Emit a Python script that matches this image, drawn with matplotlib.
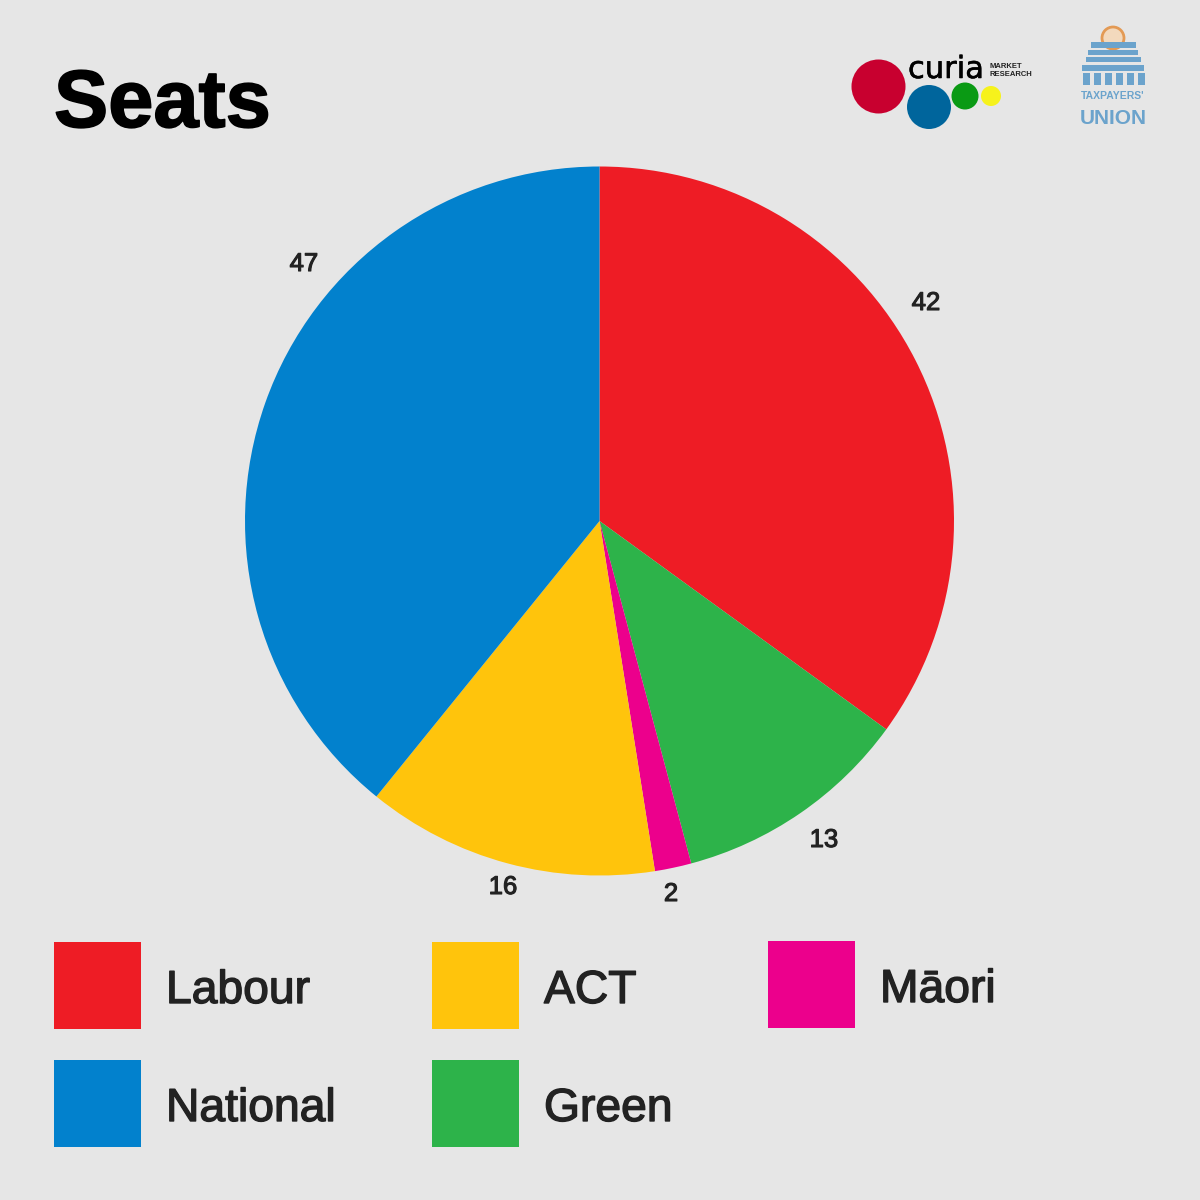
import matplotlib
matplotlib.use('Agg')
import matplotlib.pyplot as plt
import matplotlib.patheffects as pe
from matplotlib.patches import Rectangle, Circle

plt.rcParams['font.family'] = ['Liberation Sans', 'DejaVu Sans']

parties = ['Labour', 'Green', 'Māori', 'ACT', 'National']
seats = [42, 13, 2, 16, 47]
colours = ['#ee1c25', '#2db34a', '#ec008c', '#ffc40c', '#0281cd']
legend_names = ['Labour', 'National', 'ACT', 'Green', 'Māori']
legend_colours = ['#ee1c25', '#0281cd', '#ffc40c', '#2db34a', '#ec008c']
legend_x = [54, 54, 432, 432, 768]
legend_y = [942, 1060, 942, 1060, 941]
bg = '#e6e6e6'


def thick(c, w):
    # fake a medium/heavy weight, the font only has regular and bold
    return [pe.withStroke(linewidth=w, foreground=c)]


fig = plt.figure(figsize=(12, 12), dpi=100, facecolor=bg)

# whole figure in pixels, y down
ax0 = fig.add_axes([0, 0, 1, 1])
ax0.set_xlim(0, 1200)
ax0.set_ylim(1200, 0)
ax0.axis('off')

ax0.text(54, 127, 'Seats', fontsize=58.5, fontweight='bold', color='black', va='baseline', ha='left',
         path_effects=thick('black', 1.2))

for n, c, x, y in zip(legend_names, legend_colours, legend_x, legend_y):
    ax0.add_patch(Rectangle((x, y), 87, 87, facecolor=c, edgecolor='none'))
    ax0.text(x + 112, y + 61, n, fontsize=33.3, color='#222222', va='baseline', ha='left',
             path_effects=thick('#222222', 1.0))

# pie, 709 px wide centred on 599,521
ax = fig.add_axes([245 / 1200, (1200 - 875.5) / 1200, 709 / 1200, 709 / 1200])
wedges, texts = ax.pie(seats, colors=colours, startangle=90, counterclock=False,
                       labels=seats, labeldistance=None, radius=1)
ax.set_xlim(-1, 1)
ax.set_ylim(-1, 1)

label_x = [926, 824, 671, 503, 304]
label_y = [303, 840, 894, 887, 264]
for s, x, y in zip(seats, label_x, label_y):
    ax0.text(x, y, str(s), fontsize=18.5, color='#222222', ha='center', va='center',
             path_effects=thick('#222222', 0.8))

# curia logo
for x, y, r, c in [(878.5, 86.5, 27, '#c8002f'), (929, 107, 22, '#00659c'),
                   (965, 96, 13.5, '#0a9a14'), (991, 96, 10, '#f6f21c')]:
    ax0.add_patch(Circle((x, y), r, facecolor=c, edgecolor='none'))
ax0.text(908, 78, 'curia', fontsize=22, color='black', va='baseline', ha='left', family='DejaVu Sans',
         path_effects=thick('black', 0.4))
ax0.text(989, 66, 'MARKET', fontsize=5.5, fontweight='bold', color='#222222', va='center', ha='left')
ax0.text(989, 75, 'RESEARCH', fontsize=5.5, fontweight='bold', color='#222222', va='center', ha='left')

# taxpayers union logo
blue = '#6ba3cc'
ax0.add_patch(Circle((1113, 38), 11, facecolor='#f3d9bd', edgecolor='#e39a55', linewidth=2))
ax0.add_patch(Rectangle((1091, 42), 45, 6, facecolor=blue, edgecolor='none'))
ax0.add_patch(Rectangle((1088, 50), 50, 5, facecolor=blue, edgecolor='none'))
ax0.add_patch(Rectangle((1086, 57), 55, 5, facecolor=blue, edgecolor='none'))
ax0.add_patch(Rectangle((1082, 65), 62, 6, facecolor=blue, edgecolor='none'))
for x in range(1083, 1143, 11):
    ax0.add_patch(Rectangle((x, 73), 7, 12, facecolor=blue, edgecolor='none'))

ax0.text(1113, 99, "TAXPAYERS'", fontsize=7.5, fontweight='bold', color=blue, ha='center', va='baseline')
ax0.text(1113, 124, 'UNION', fontsize=15, fontweight='bold', color=blue, ha='center', va='baseline')

fig.savefig('out.png', dpi=100, facecolor=bg)
